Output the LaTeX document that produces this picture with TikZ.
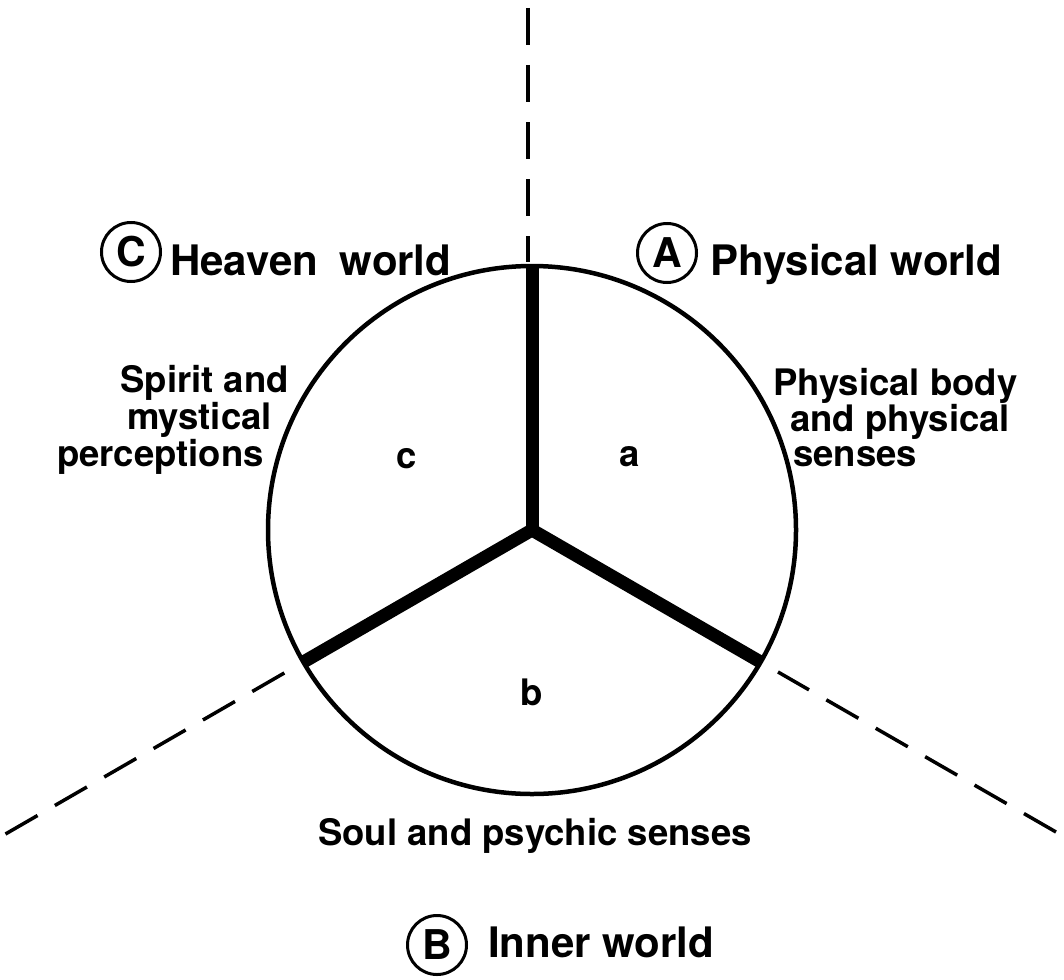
\documentclass[tikz,border=0pt]{standalone}
\usepackage{fontspec}
\setmainfont{TeX Gyre Heros}
\begin{document}
\begin{tikzpicture}[x=1pt,y=-1pt,
  title/.style={font=\fontsize{42}{48}\selectfont\bfseries, inner sep=0pt, anchor=base west},
  side/.style={font=\fontsize{36.5}{40}\selectfont\bfseries, inner sep=0pt},
  circled/.style={circle, draw, line width=3pt, minimum size=59pt, inner sep=0pt, font=\fontsize{41}{48}\selectfont\bfseries},
  rim/.style={line width=4.5pt},
  spoke/.style={line width=13pt, line join=miter},
  divider/.style={line width=3.5pt, dash pattern=on 37pt off 20pt}]
\useasboundingbox[fill=white] (0,0) rectangle (1064,979);

% geometry
\coordinate (O) at (532,530);
\coordinate (top) at (532,266);
\coordinate (ll) at (303.4,662);
\coordinate (lr) at (760.6,662);
% dividers
\coordinate (d1a) at (528,8);
\coordinate (d1b) at (528,262);
\coordinate (d2a) at (5.5,834);
\coordinate (d2b) at (286,672);
\coordinate (d3a) at (1056,832);
\coordinate (d3b) at (778,672);

\draw[divider] (d1a) -- (d1b);
\draw[divider] (d2a) -- (d2b);
\draw[divider] (d3a) -- (d3b);

\draw[rim] (O) circle[radius=264pt];
\draw[spoke] (ll) -- (O) -- (lr);
\draw[spoke] (top) -- (O);

% sector letters
\node[side] (a) at (630,457) {a};
\node[side] (b) at (532,692) {b};
\node[side] (c) at (407,459) {c};

% world titles
\node[circled] (C) at (131,252) {C};
\node[title] (Ct) at (170,275) {Heaven\hspace{10pt} world};
\node[circled] (A) at (667,253) {A};
\node[title] (At) at (710,275) {Physical world};
\node[circled] (B) at (437,945) {B};
\node[title] (Bt) at (488,957) {Inner world};

% side labels
\node[side, anchor=base east] (s1) at (289,392) {Spirit and};
\node[side, anchor=base east] (s2) at (272,429) {mystical};
\node[side, anchor=base east] (s3) at (264,466) {perceptions};
\node[side, anchor=base west] (p1) at (773,395) {Physical body};
\node[side, anchor=base west] (p2) at (790,431) {and physical};
\node[side, anchor=base west] (p3) at (793,466) {senses};
\node[side, anchor=base west] (q1) at (318,845) {Soul and psychic senses};
\end{tikzpicture}
\end{document}
